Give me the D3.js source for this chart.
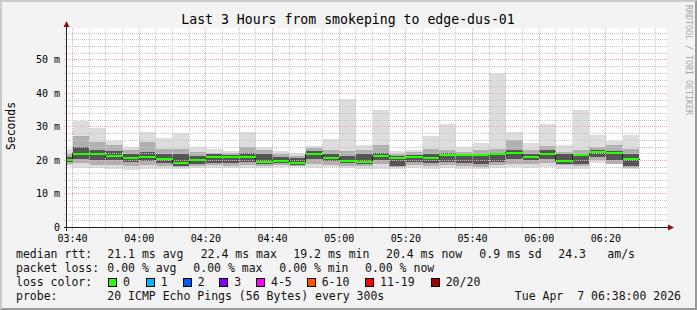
<!doctype html>
<html>
<head>
<style>
body { margin: 0; background: #f3f3f3; }
svg { font-family: "DejaVu Sans Mono", monospace; }
svg text { white-space: pre; }
</style>
<script src="https://d3js.org/d3.v7.min.js"></script>
</head>
<body>
<svg width="697" height="310"></svg>
<script>
// 5 minute slots (start time), the first one is cut by the left edge
var slots = ["03:35","03:40","03:45","03:50","03:55","04:00","04:05","04:10","04:15","04:20",
             "04:25","04:30","04:35","04:40","04:45","04:50","04:55","05:00","05:05","05:10",
             "05:15","05:20","05:25","05:30","05:35","05:40","05:45","05:50","05:55","06:00",
             "06:05","06:10","06:15","06:20","06:25"];

// median rtt per slot (ms)
var median = [20.1,22.0,22.0,21.3,20.7,21.1,20.4,19.2,20.1,21.0,21.0,21.1,19.6,19.9,19.3,21.9,20.7,19.9,19.6,21.4,
              20.8,21.0,20.7,21.7,21.5,21.5,21.8,22.3,21.1,22.0,19.9,21.7,22.4,22.1,20.4];
// smoke: fastest / slowest ping and two inner percentile pairs (ms)
var pMin = [18.4,17.9,17.8,17.6,17.3,17.6,17.5,17.6,17.8,17.8,17.8,17.8,17.8,18.0,18.0,17.8,18.0,17.8,17.5,17.6,
            17.6,17.8,17.6,17.8,17.5,17.5,17.8,18.0,17.8,18.0,17.6,17.6,19.3,19.1,17.5];
var pMax = [23.3,31.9,29.8,25.9,23.9,28.5,26.7,28.1,24.1,23.3,22.9,28.5,24.1,22.9,22.1,24.3,26.5,38.4,24.6,35.1,
            22.8,23.1,27.3,30.9,23.9,25.3,46.1,28.5,25.3,30.9,24.6,35.1,27.6,25.9,27.6];
var lo2 = [19.0,19.2,18.8,18.8,18.4,18.8,18.5,18.0,18.4,18.6,18.5,18.6,18.4,18.6,18.4,19.0,18.8,18.4,18.4,19.0,
           18.0,18.6,18.5,18.6,18.5,18.2,18.6,19.0,19.0,19.2,18.6,18.4,20.0,19.0,17.9];
var hi2 = [22.0,27.4,25.5,24.5,23.0,25.5,23.5,23.5,22.5,22.3,22.2,24.0,23.2,22.0,21.3,23.6,23.0,22.8,23.2,24.6,
           22.0,22.5,23.5,23.2,22.5,23.0,23.5,26.0,23.0,24.2,22.5,23.0,24.0,24.5,23.5];
var lo3 = [19.6,20.5,20.0,20.0,19.6,19.8,19.4,18.5,19.0,19.4,19.2,19.6,19.0,19.2,18.8,20.5,19.8,19.2,19.0,20.2,
           18.4,19.5,19.2,19.5,19.2,19.0,19.5,20.5,20.0,20.4,19.0,19.0,21.0,20.0,18.3];
var hi3 = [21.0,24.0,23.0,22.8,22.0,22.6,22.0,22.0,21.4,21.8,21.5,22.3,22.0,21.0,20.8,22.8,21.8,21.2,21.8,22.2,
           21.4,21.6,21.8,22.2,22.0,22.0,22.3,23.2,21.8,23.0,21.8,22.0,23.0,22.8,21.8];

var yTicks = [0, 10, 20, 30, 40, 50];
var lossLabels = ["0", "1", "2", "3", "4-5", "6-10", "11-19", "20/20"];
var lossColors = ["#26ff00", "#00b8ff", "#0059ff", "#7e00ff", "#ff00ff", "#ff5500", "#ff0000", "#a10000"];
var rttStats = ["21.1 ms avg", "22.4 ms max", "19.2 ms min", "20.4 ms now", "0.9 ms sd", "24.3", "am/s"];
var lossStats = ["0.00 % avg", "0.00 % max", "0.00 % min", "0.00 % now"];

var svg = d3.select("svg"),
    width = +svg.attr("width"),
    height = +svg.attr("height");

var t = function(s) { var p = s.split(":"); return new Date(Date.UTC(2026, 3, 7, +p[0], +p[1], +(p[2] || 0))); };
var step = 5 * 60 * 1000;

var x = d3.scaleUtc().domain([t("03:38:20"), t("06:38:20")]).range([67, 667]);
var y = d3.scaleLinear().domain([0, 59.7]).range([227.5, 27.5]);
var crisp = function(v) { return Math.round(v - 0.5) + 0.5; };
var x0 = function(d) { return Math.round(x(t(d))); };
var w = function(d) { return Math.round(x(new Date(+t(d) + step))) - Math.round(x(t(d))); };

// frame
svg.append("rect").attr("width", width).attr("height", height).attr("fill", "#cbcbcb");
svg.append("path").attr("d", "M" + width + ",0V" + height + "H0L2," + (height - 2) + "H" + (width - 2) + "V2Z").attr("fill", "#999999");
svg.append("rect").attr("x", 2).attr("y", 2).attr("width", width - 4).attr("height", height - 4).attr("fill", "#f3f3f3");

svg.append("rect").attr("x", 67).attr("y", 28).attr("width", 600).attr("height", 200).attr("fill", "#fff");
svg.append("clipPath").attr("id", "clip")
   .append("rect").attr("x", 67).attr("y", 28).attr("width", 600).attr("height", 200);

var plot = svg.append("g").attr("clip-path", "url(#clip)").attr("shape-rendering", "crispEdges");

// smoke
var bands = [[pMin, pMax, "#dddddd"], [lo2, hi2, "#b0b0b0"], [lo3, hi3, "#555555"]];
bands.forEach(function(b) {
  plot.append("g").selectAll("rect")
      .data(slots)
      .enter().append("rect")
      .attr("x", x0)
      .attr("width", w)
      .attr("y", function(d, i) { return Math.round(y(b[1][i])); })
      .attr("height", function(d, i) { return Math.round(y(b[0][i])) - Math.round(y(b[1][i])); })
      .attr("fill", b[2]);
});

// grid
var grid = svg.append("g").attr("stroke-dasharray", "1,1").attr("fill", "none");
d3.range(2, 59, 2).forEach(function(v) {
  grid.append("line")
      .attr("x1", 64).attr("x2", 667)
      .attr("y1", crisp(y(v))).attr("y2", crisp(y(v)))
      .attr("stroke", v % 10 ? "#c8c8c8" : "#f0a8a8");
});
d3.utcMinute.every(5).range(x.domain()[0], x.domain()[1]).forEach(function(d) {
  grid.append("line")
      .attr("x1", crisp(x(d))).attr("x2", crisp(x(d)))
      .attr("y1", 28).attr("y2", 231)
      .attr("stroke", d.getUTCMinutes() % 20 ? "#c8c8c8" : "#f0a8a8");
});

// median: black step line plus loss coloured band
var med = svg.append("g").attr("clip-path", "url(#clip)").attr("shape-rendering", "crispEdges");
var pts = slots.map(function(d, i) { return [t(d), median[i]]; });
pts.push([new Date(+t(slots[slots.length - 1]) + step), median[median.length - 1]]);
med.append("path")
    .datum(pts)
    .attr("fill", "none")
    .attr("stroke", "#202020")
    .attr("d", d3.line().curve(d3.curveStepAfter)
                .x(function(d) { return crisp(x(d[0])); })
                .y(function(d) { return crisp(y(d[1])); }));
med.append("g").selectAll("rect")
    .data(slots)
    .enter().append("rect")
    .attr("x", x0)
    .attr("width", w)
    .attr("y", function(d, i) { return Math.round(y(median[i])) - 1; })
    .attr("height", 2)
    .attr("fill", lossColors[0]);

// axes
svg.append("line").attr("x1", 64).attr("x2", 669).attr("y1", 227.5).attr("y2", 227.5).attr("stroke", "#222");
svg.append("line").attr("x1", 66.5).attr("x2", 66.5).attr("y1", 231).attr("y2", 25).attr("stroke", "#222");
svg.append("path").attr("d", "M674,227.5L668,224.5V230.5Z").attr("fill", "#8b1010");
svg.append("path").attr("d", "M66.5,21L63.5,27H69.5Z").attr("fill", "#8b1010");

svg.append("g").selectAll("text")
   .data(yTicks)
   .enter().append("text")
   .attr("x", 60).attr("y", function(d) { return y(d) + 3.5; })
   .attr("text-anchor", "end")
   .style("font-size", "10px")
   .text(function(d) { return d ? d + " m" : "0"; });

svg.append("g").selectAll("text")
   .data(d3.utcMinute.every(20).range(x.domain()[0], x.domain()[1]))
   .enter().append("text")
   .attr("x", function(d) { return x(d); }).attr("y", 241.5)
   .attr("text-anchor", "middle")
   .style("font-size", "10px")
   .text(d3.utcFormat("%H:%M"));

// titles
svg.append("text").attr("x", 348).attr("y", 24).attr("text-anchor", "middle")
   .style("font-size", "13.2px").text("Last 3 Hours from smokeping to edge-dus-01");
svg.append("text").attr("transform", "translate(15,126) rotate(-90)").attr("text-anchor", "middle")
   .style("font-size", "11.4px").text("Seconds");
svg.append("text").attr("transform", "translate(685.5,5) rotate(90)")
   .style("font-size", "8.3px").attr("fill", "#a8a8a8").text("RRDTOOL / TOBI OETIKER");

// legend
var legend = svg.append("g").style("font-size", "11.5px").attr("fill", "#111");
legend.append("text").attr("x", 16).attr("y", 258).text("median rtt:");
[107.3, 200.7, 293.3, 386, 479.3, 558.3, 607.3].forEach(function(px, i) {
  legend.append("text").attr("x", px).attr("y", 258).text(rttStats[i]);
});
legend.append("text").attr("x", 16).attr("y", 272).text("packet loss:");
[107.3, 193.3, 279.3, 365].forEach(function(px, i) {
  legend.append("text").attr("x", px).attr("y", 272).text(lossStats[i]);
});
legend.append("text").attr("x", 16).attr("y", 286).text("loss color:");
[108, 145.7, 182.7, 219.3, 256, 306.7, 365, 430.7].forEach(function(px, i) {
  legend.append("rect").attr("x", Math.round(px) + 0.5).attr("y", 278.5).attr("width", 8).attr("height", 8)
        .attr("fill", lossColors[i]).attr("stroke", "#000");
  legend.append("text").attr("x", px + 15).attr("y", 286).text(lossLabels[i]);
});
legend.append("text").attr("x", 16).attr("y", 300).text("probe:");
legend.append("text").attr("x", 107.3).attr("y", 300).text("20 ICMP Echo Pings (56 Bytes) every 300s");
legend.append("text").attr("x", 681).attr("y", 300).attr("text-anchor", "end").text("Tue Apr  7 06:38:00 2026");
</script>
</body>
</html>
